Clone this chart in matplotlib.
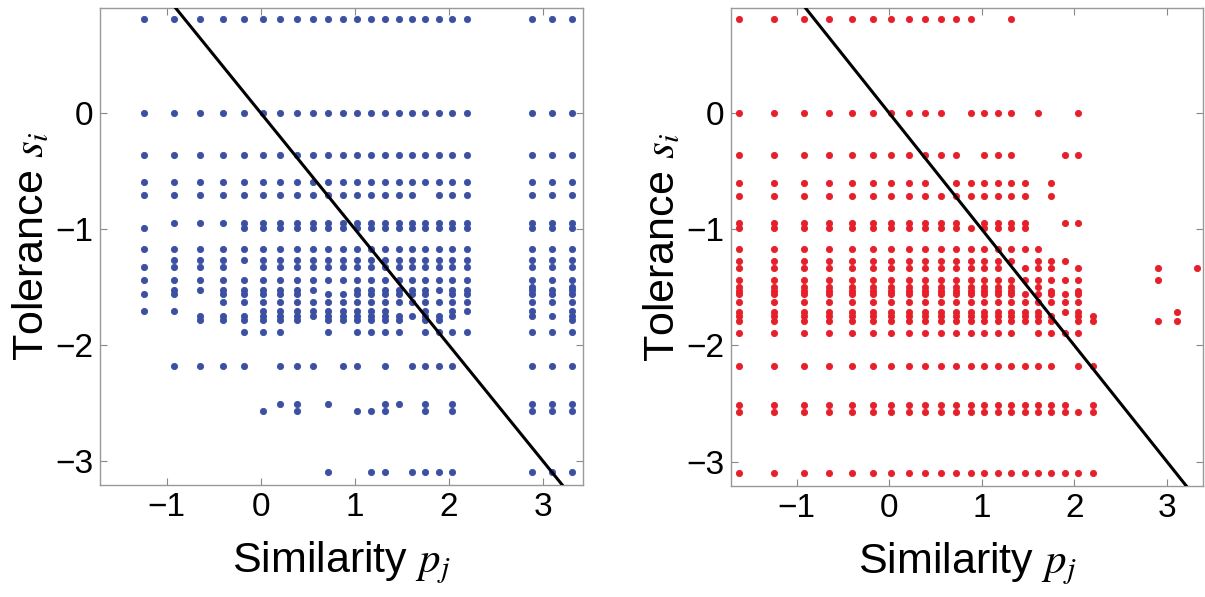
import numpy as np
import matplotlib
matplotlib.use('Agg')
import matplotlib.pyplot as plt

plt.rcParams['font.family'] = ['Liberation Sans', 'DejaVu Sans']
plt.rcParams['mathtext.fontset'] = 'stix'

# grid levels (similarity p_j columns, tolerance s_i rows)
x_levels = [-1.62, -1.24, -0.92, -0.65, -0.40, -0.18, 0.02, 0.21, 0.39, 0.56, 0.72,
            0.88, 1.02, 1.17, 1.32, 1.47, 1.61, 1.75, 1.90, 2.04, 2.20, 2.89, 3.10, 3.31]
y_levels = [0.81, 0.00, -0.36, -0.60, -0.71, -0.95, -0.99, -1.17, -1.27, -1.33, -1.44,
            -1.50, -1.53, -1.56, -1.63, -1.71, -1.75, -1.79, -1.89, -2.18, -2.51, -2.57, -3.10]

def rng(a, b):
    return list(range(a, b + 1))

# column indices present for each row (left panel, blue)
left_rows = [
    rng(1, 23),
    rng(1, 23),
    rng(1, 23),
    rng(1, 23),
    rng(1, 16) + rng(18, 23),
    rng(2, 23),
    [1] + rng(5, 23),
    rng(1, 23),
    rng(2, 23),
    rng(1, 4) + rng(6, 23),
    rng(1, 23),
    [21, 23],
    rng(2, 9) + rng(12, 23),
    [1, 2] + rng(4, 8) + rng(10, 17) + rng(19, 23),
    rng(4, 23),
    [1, 2] + rng(6, 14) + [17, 19, 20, 21, 23],
    rng(3, 19) + [21, 22, 23],
    rng(3, 8) + rng(10, 15) + [17, 18, 23],
    [5, 6, 7, 10] + rng(12, 15) + rng(17, 23),
    [2, 3, 4, 5, 7, 8, 9, 11, 12, 14, 16, 17, 18, 19, 21, 22, 23],
    [7, 8, 10, 14, 15, 17, 19, 21, 22, 23],
    [6, 8, 12, 13, 14, 17, 19, 21, 22, 23],
    [10, 13, 14, 16, 17, 18, 19, 21, 22, 23],
]

# column indices present for each row (right panel, red)
right_rows = [
    rng(0, 11) + [14],
    rng(0, 9) + rng(11, 14) + [16, 19],
    rng(0, 10) + rng(12, 14) + [18, 19],
    rng(0, 8) + rng(10, 15) + [17],
    rng(0, 15) + [17],
    rng(0, 10) + rng(12, 15) + [18, 19],
    rng(0, 15),
    rng(0, 16),
    rng(0, 14) + [16, 17, 18],
    rng(0, 13) + [15, 16, 17, 19],
    rng(0, 19),
    rng(0, 14) + [16],
    rng(0, 14) + [17, 19],
    rng(0, 19),
    rng(0, 19),
    rng(0, 16) + [18, 19],
    rng(0, 17) + [19, 20],
    rng(0, 17) + [19, 20],
    rng(0, 14) + rng(16, 19),
    rng(0, 17) + [19, 20],
    rng(0, 18) + [20],
    rng(0, 20),
    rng(0, 20),
]
right_extra_x = [2.90, 3.32, 2.90, 3.11, 2.90, 3.11]
right_extra_y = [-1.33, -1.33, -1.44, -1.71, -1.79, -1.79]

line_slope = -1.0
line_intercept = 0.0

x_ticks = [-1, 0, 1, 2, 3]
y_ticks = [-3, -2, -1, 0]


def points(rows):
    xs, ys = [], []
    for r, cols in enumerate(rows):
        for c in cols:
            xs.append(x_levels[c])
            ys.append(y_levels[r])
    return np.array(xs), np.array(ys)


fig = plt.figure(figsize=(12.05, 5.97), dpi=100)
ax1 = fig.add_axes([100 / 1205, 112 / 597, 483 / 1205, 477 / 597])
ax2 = fig.add_axes([731 / 1205, 111 / 597, 472 / 1205, 478 / 597])

lx, ly = points(left_rows)
rx, ry = points(right_rows)
rx = np.concatenate([rx, right_extra_x])
ry = np.concatenate([ry, right_extra_y])

blue = '#3b4fa3'
red = '#e5202b'

for ax, xs, ys, col, xlim in [(ax1, lx, ly, blue, (-1.71, 3.43)),
                              (ax2, rx, ry, red, (-1.71, 3.39))]:
    ax.plot(xs, ys, 'o', ms=4.5, color=col, mec=col, mew=0.6, zorder=2)
    ax.axline((0, line_intercept), slope=line_slope, color='black', lw=2.2, zorder=3)
    ax.set_xlim(*xlim)
    ax.set_ylim(-3.21, 0.905)
    ax.set_xticks(x_ticks)
    ax.set_yticks(y_ticks)
    ax.set_xticklabels(['\u2212' + str(-t) if t < 0 else str(t) for t in x_ticks])
    ax.set_yticklabels(['\u2212' + str(-t) if t < 0 else str(t) for t in y_ticks])
    ax.tick_params(direction='in', length=5, width=0.8, color='#888888',
                   labelsize=24, top=True, right=True, pad=5)
    for s in ax.spines.values():
        s.set_color('#999999')
        s.set_linewidth(1.0)
    ax.set_xlabel(r'Similarity $p_j$', fontsize=31, labelpad=12)
    ax.set_ylabel(r'Tolerance $s_i$', fontsize=31, labelpad=2)

fig.savefig('out.png', dpi=100)
